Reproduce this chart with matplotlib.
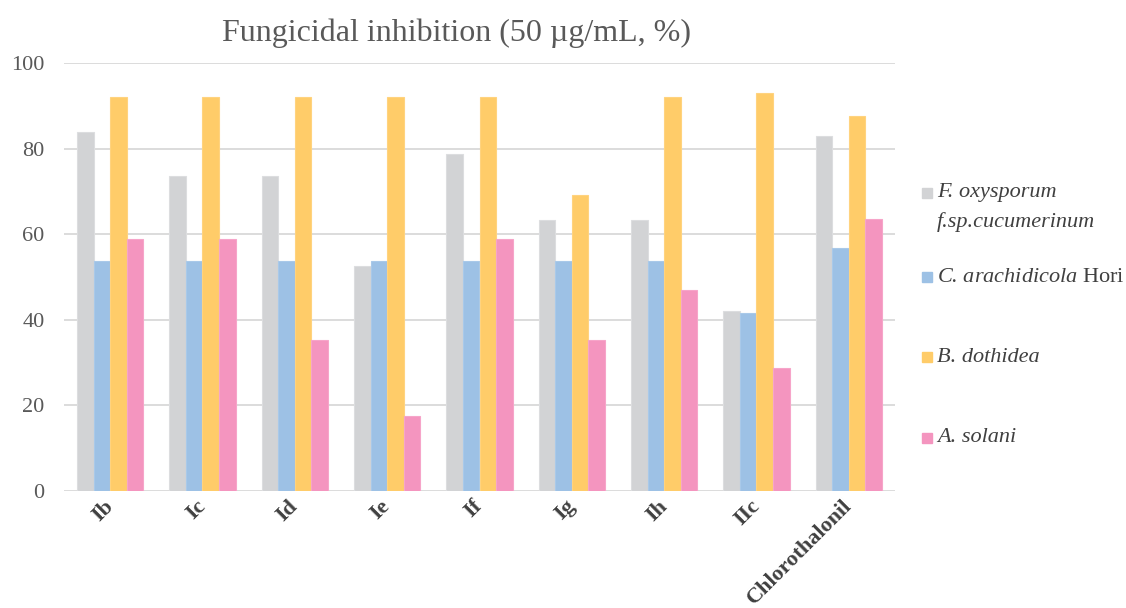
import numpy as np
import matplotlib
matplotlib.use('Agg')
import matplotlib.pyplot as plt
from matplotlib.patches import Rectangle

plt.rcParams['font.family'] = ['Liberation Serif', 'DejaVu Serif']
plt.rcParams['mathtext.fontset'] = 'custom'
plt.rcParams['mathtext.rm'] = 'Liberation Serif'
plt.rcParams['mathtext.it'] = 'Liberation Serif:italic'

compounds = ['Ib', 'Ic', 'Id', 'Ie', 'If', 'Ig', 'Ih', 'IIc', 'Chlorothalonil']
f_oxysporum = [84.0, 73.6, 73.6, 52.6, 78.7, 63.3, 63.3, 42.1, 82.9]
c_arachidicola = [53.7, 53.7, 53.7, 53.7, 53.7, 53.7, 53.7, 41.6, 56.8]
b_dothidea = [92.2, 92.2, 92.2, 92.2, 92.2, 69.2, 92.2, 93.0, 87.6]
a_solani = [58.8, 58.8, 35.2, 17.5, 58.8, 35.2, 46.9, 28.6, 63.5]

series = [f_oxysporum, c_arachidicola, b_dothidea, a_solani]
labels = ['F. oxysporum\nf.sp.cucumerinum', r'C. arachidicola $\mathrm{Hori}$',
          'B. dothidea', 'A. solani']
colors = ['#D2D3D5', '#9DC1E5', '#FFCC69', '#F495BF']
edges = ['#DCDDDF', '#A9C9E9', '#FFD37F', '#F6A5C9']

W, H = 1126, 608
fig = plt.figure(figsize=(W / 100, H / 100), dpi=100)
ax = fig.add_axes([64 / W, 1 - 490.7 / H, (895 - 64) / W, (490.7 - 63.2) / H])

x = np.arange(len(compounds))
bw = 0.179
for i, vals in enumerate(series):
    ax.bar(x + (i - 1.5) * bw, vals, bw, color=colors[i], edgecolor=edges[i],
           linewidth=0.8, zorder=3)

ax.set_xlim(-0.5, len(compounds) - 0.5)
ax.set_ylim(0, 100)
ax.set_yticks(np.arange(0, 101, 20))
ax.yaxis.grid(True, color='#D9D9D9', linewidth=1.3, zorder=0)
for s in ax.spines.values():
    s.set_visible(False)
ax.tick_params(axis='y', length=0, pad=14, labelsize=16, labelcolor='#595959')
ax.tick_params(axis='x', length=0, pad=9)
ax.set_xticks(x)
ax.set_xticklabels(compounds, rotation=45, ha='right', va='center',
                   rotation_mode='anchor', fontsize=16, fontweight='bold',
                   color='#404040')

fig.text(456 / W, 1 - 33 / H, 'Fungicidal inhibition (50 µg/mL, %)',
         fontsize=23, color='#595959', ha='center', va='center')

# legend, drawn by hand so the swatch sits on the first line
ys = [193, 277, 357, 438]
for i in range(4):
    fig.patches.append(Rectangle((922 / W, 1 - (ys[i] + 5) / H), 10 / W, 10 / H,
                                 transform=fig.transFigure, color=colors[i]))
    fig.text(937 / W, 1 - ys[i] / H, labels[i].split('\n')[0], fontsize=16,
             style='italic', color='#404040', ha='left', va='center')
    if '\n' in labels[i]:
        fig.text(937 / W, 1 - (ys[i] + 29) / H, labels[i].split('\n')[1],
                 fontsize=16, style='italic', color='#404040', ha='left',
                 va='center')

fig.savefig('out.png', dpi=100)
